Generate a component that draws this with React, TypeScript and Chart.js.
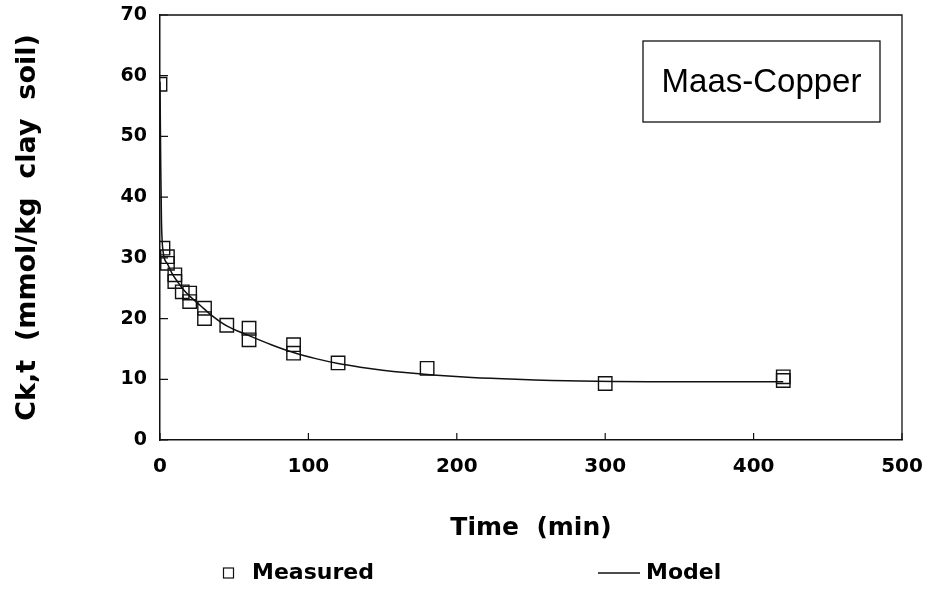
import React, { useEffect, useRef } from "react";
import { Chart, registerables } from "chart.js";

Chart.register(...registerables);

// Measured points (time in min, Ck,t in mmol/kg clay soil)
const measuredTime = [0, 2, 5, 5, 10, 10, 15, 20, 20, 30, 30, 45, 60, 60, 90, 90, 120, 180, 300, 420, 420];
const measuredConc = [58.6, 31.6, 30.2, 29.1, 27.2, 26.1, 24.4, 24.2, 22.8, 21.7, 20.0, 18.9, 18.4, 16.5, 15.7, 14.3, 12.7, 11.8, 9.3, 10.4, 9.8];

// Model curve
const modelTime = [0, 0.5, 1, 2, 5, 8, 12, 16, 20, 27, 35, 45, 60, 75, 90, 105, 120, 135, 150, 165, 184, 210, 240, 283, 330, 380, 420];
const modelConc = [59, 45, 36, 31.2, 29.0, 27.5, 26.0, 24.7, 23.7, 22.2, 20.5, 18.8, 17.2, 15.7, 14.4, 13.4, 12.6, 12.0, 11.5, 11.1, 10.7, 10.3, 10.0, 9.7, 9.6, 9.6, 9.6];

const xTicks = [0, 100, 200, 300, 400, 500];
const yTicks = [0, 10, 20, 30, 40, 50, 60, 70];

const titleText = "Maas-Copper";
const xTitle = "Time  (min)";
const yTitle = "Ck,t  (mmol/kg  clay  soil)";
const legendMeasured = "Measured";
const legendModel = "Model";

const framePlugin = {
  id: "frameAndTicks",
  afterDatasetsDraw(chart: any) {
    const { ctx, chartArea } = chart;
    const xs = chart.scales.x;
    const ys = chart.scales.y;
    ctx.save();
    ctx.strokeStyle = "#111";
    ctx.lineWidth = 1.3;
    // top & right frame
    ctx.beginPath();
    ctx.moveTo(chartArea.left, chartArea.top);
    ctx.lineTo(chartArea.right, chartArea.top);
    ctx.lineTo(chartArea.right, chartArea.bottom);
    ctx.stroke();
    // inward ticks
    ctx.lineWidth = 1.2;
    ctx.beginPath();
    yTicks.forEach((v) => {
      const y = ys.getPixelForValue(v);
      ctx.moveTo(chartArea.left, y);
      ctx.lineTo(chartArea.left + 8, y);
    });
    xTicks.forEach((v) => {
      const x = xs.getPixelForValue(v);
      ctx.moveTo(x, chartArea.bottom);
      ctx.lineTo(x, chartArea.bottom - 7);
    });
    ctx.stroke();

    // Title box
    const bx = chartArea.right - 259;
    const by = chartArea.top + 26;
    const bw = 237;
    const bh = 81;
    ctx.lineWidth = 1.3;
    ctx.strokeRect(bx, by, bw, bh);
    ctx.fillStyle = "#000";
    ctx.font = "33px 'Liberation Sans', Arial, sans-serif";
    ctx.textAlign = "center";
    ctx.textBaseline = "middle";
    ctx.fillText(titleText, bx + bw / 2, by + bh / 2 + 1);

    // Legend
    const ly = 573;
    ctx.lineWidth = 1.2;
    ctx.strokeRect(223.5, ly - 5, 10, 10);
    ctx.font = "bold 22px 'DejaVu Sans', sans-serif";
    ctx.textAlign = "left";
    ctx.fillText(legendMeasured, 252, ly);
    ctx.lineWidth = 1.3;
    ctx.beginPath();
    ctx.moveTo(598, ly);
    ctx.lineTo(640, ly);
    ctx.stroke();
    ctx.fillText(legendModel, 646, ly);
    ctx.restore();
  },
};

export default function App() {
  const canvasRef = useRef<HTMLCanvasElement | null>(null);

  useEffect(() => {
    document.body.style.margin = "0";
    const canvas = canvasRef.current;
    if (!canvas) return;
    const chart = new Chart(canvas, {
      type: "scatter",
      data: {
        datasets: [
          {
            label: legendModel,
            type: "line",
            data: modelTime.map((t, i) => ({ x: t, y: modelConc[i] })),
            borderColor: "#111",
            borderWidth: 1.5,
            pointRadius: 0,
            cubicInterpolationMode: "monotone",
            fill: false,
          } as any,
          {
            label: legendMeasured,
            data: measuredTime.map((t, i) => ({ x: t, y: measuredConc[i] })),
            pointStyle: "rect",
            pointRadius: 9.5,
            borderColor: "#111",
            borderWidth: 1.4,
            backgroundColor: "rgba(0,0,0,0)",
            showLine: false,
          },
        ],
      },
      options: {
        animation: false,
        responsive: true,
        maintainAspectRatio: false,
        layout: { padding: { top: 15, right: 26, left: 0, bottom: 0 } },
        plugins: {
          legend: { display: false },
          tooltip: { enabled: false },
          title: { display: false },
        },
        scales: {
          x: {
            type: "linear",
            min: 0,
            max: 500,
            afterFit: (s: any) => {
              s.height = 152;
              s.paddingLeft = 0;
              s.paddingRight = 0;
              s.paddingTop = 0;
              s.paddingBottom = 0;
            },
            afterBuildTicks: (s: any) => {
              s.ticks = xTicks.map((v) => ({ value: v }));
            },
            grid: { display: false, drawTicks: false },
            border: { display: true, color: "#111", width: 1.5 },
            ticks: {
              padding: 15,
              color: "#000",
              maxRotation: 0,
              font: { family: "'DejaVu Sans', sans-serif", size: 20, weight: "bold" },
            },
            title: {
              display: true,
              text: xTitle,
              color: "#000",
              padding: { top: 0, bottom: 49 },
              font: { family: "'DejaVu Sans', sans-serif", size: 25, weight: "bold" },
            },
          },
          y: {
            type: "linear",
            min: 0,
            max: 70,
            afterFit: (s: any) => {
              s.width = 160;
              s.paddingLeft = 0;
              s.paddingRight = 0;
              s.paddingTop = 0;
              s.paddingBottom = 0;
            },
            afterBuildTicks: (s: any) => {
              s.ticks = yTicks.map((v) => ({ value: v }));
            },
            grid: { display: false, drawTicks: false },
            border: { display: true, color: "#111", width: 1.5 },
            ticks: {
              padding: 13,
              color: "#000",
              font: { family: "'DejaVu Sans', sans-serif", size: 19, weight: "bold" },
            },
            title: {
              display: true,
              text: yTitle,
              color: "#000",
              padding: { top: 12, bottom: 0 },
              font: { family: "'DejaVu Sans', sans-serif", size: 27, weight: "bold" },
            },
          },
        },
      },
      plugins: [framePlugin],
    });
    return () => chart.destroy();
  }, []);

  return (
    <div style={{ position: "relative", width: "928px", height: "592px" }}>
      <canvas ref={canvasRef} />
    </div>
  );
}
